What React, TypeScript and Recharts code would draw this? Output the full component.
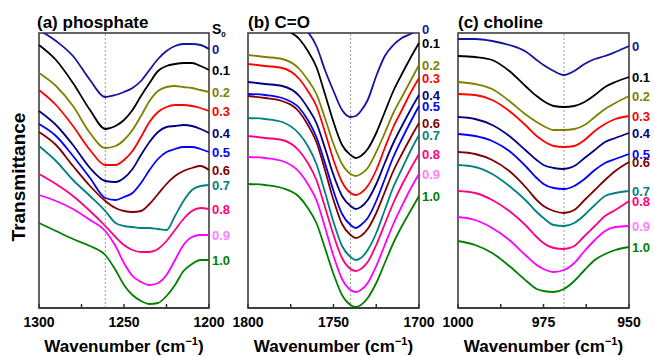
import { LabelList, Line, LineChart, ReferenceArea, ReferenceLine, XAxis, YAxis } from "recharts";

// S0 fraction for each curve, top to bottom
const S0 = ["0", "0.1", "0.2", "0.3", "0.4", "0.5", "0.6", "0.7", "0.8", "0.9", "1.0"];

// (a) phosphate band, wavenumber in cm-1, transmittance in arbitrary offset units
const phosWn = [1300, 1290, 1280, 1270, 1261, 1255, 1250, 1245, 1240, 1235, 1230, 1225, 1220, 1215, 1210, 1205, 1200];
const phos00 = [278, 267, 252, 228, 211, 213, 216, 220, 227, 238, 249, 257, 262, 264, 264, 263, 259];
const phos01 = [263, 248, 225, 198, 179, 182, 188, 198, 212, 225, 237, 242, 244, 245, 245, 242, 238];
const phos02 = [235, 222, 202, 175, 160, 162, 168, 178, 192, 207, 217, 221, 222, 221, 220, 218, 216];
const phos03 = [218, 203, 182, 158, 143, 143, 148, 157, 171, 186, 196, 201, 203, 203, 202, 200, 197];
const phos04 = [197, 183, 163, 140, 127, 126, 130, 139, 153, 166, 176, 181, 182, 183, 182, 179, 175];
const phos05 = [184, 172, 152, 130, 110, 108, 111, 115, 125, 138, 149, 156, 159, 161, 161, 159, 156];
const phos06 = [176, 163, 142, 122, 107, 100, 97, 96, 97, 104, 114, 124, 132, 137, 140, 142, 138];
const phos07 = [162, 147, 128, 112, 97, 85, 82, 81, 80, 80, 79, 78, 92, 107, 118, 122, 123];
const phos08 = [134, 124, 112, 97, 82, 71, 63, 58, 56, 56, 59, 67, 78, 89, 97, 100, 99];
const phos09 = [113, 107, 99, 88, 77, 62, 45, 32, 26, 23, 25, 33, 48, 63, 71, 73, 73];
const phos10 = [85, 77, 69, 62, 53, 38, 23, 13, 7, 4, 5, 12, 23, 37, 44, 48, 48];

// (b) C=O band
const carbWn = [1800, 1790, 1780, 1770, 1765, 1760, 1755, 1750, 1745, 1740, 1737, 1734, 1730, 1725, 1720, 1715, 1710, 1705, 1700];
const carb00 = [300, 298, 292, 283, 276, 262, 238, 217, 198, 191, 192, 197, 208, 232, 252, 263, 270, 274, 279];
const carb01 = [283, 282, 279, 269, 257, 241, 214, 186, 163, 153, 150, 152, 159, 175, 196, 217, 234, 250, 265];
const carb02 = [253, 251, 249, 239, 228, 214, 190, 164, 144, 134, 132, 134, 140, 156, 175, 195, 211, 227, 243];
const carb03 = [244, 242, 240, 229, 217, 202, 176, 148, 126, 115, 113, 115, 122, 138, 160, 181, 198, 215, 230];
const carb04 = [226, 224, 222, 212, 200, 185, 160, 133, 112, 102, 99, 101, 108, 124, 145, 165, 182, 198, 213];
const carb05 = [214, 213, 210, 200, 188, 171, 145, 117, 94, 83, 80, 83, 90, 107, 129, 151, 169, 186, 202];
const carb06 = [212, 210, 207, 196, 183, 166, 138, 108, 84, 73, 70, 72, 79, 95, 116, 137, 154, 170, 185];
const carb07 = [190, 189, 186, 174, 162, 144, 116, 86, 62, 51, 48, 50, 58, 75, 98, 121, 139, 157, 173];
const carb08 = [172, 170, 168, 157, 145, 128, 101, 73, 50, 39, 37, 39, 46, 63, 84, 105, 123, 139, 154];
const carb09 = [151, 150, 147, 136, 124, 108, 81, 52, 29, 18, 16, 18, 25, 42, 63, 84, 102, 119, 134];
const carb10 = [124, 123, 120, 111, 100, 85, 60, 34, 13, 3, 1, 3, 10, 25, 45, 65, 82, 97, 112];

// (c) choline band
const cholWn = [1000, 995, 990, 985, 980, 977, 975, 972, 969, 966, 963, 960, 957, 954, 950];
const chol00 = [269, 269, 267, 263, 256, 248, 243, 237, 233, 237, 244, 249, 252, 256, 262];
const chol01 = [252, 251, 248, 237, 221, 212, 207, 202, 201, 202, 206, 213, 221, 226, 231];
const chol02 = [226, 224, 219, 207, 193, 186, 182, 178, 178, 179, 183, 191, 199, 205, 212];
const chol03 = [214, 213, 208, 197, 182, 172, 167, 162, 161, 162, 168, 177, 184, 189, 192];
const chol04 = [191, 189, 183, 172, 157, 148, 143, 140, 139, 142, 150, 158, 166, 170, 175];
const chol05 = [174, 172, 167, 157, 141, 130, 124, 120, 119, 122, 129, 138, 145, 149, 154];
const chol06 = [156, 154, 148, 137, 120, 108, 102, 97, 95, 98, 108, 118, 128, 137, 146];
const chol07 = [143, 141, 134, 122, 107, 96, 90, 83, 82, 85, 93, 103, 112, 115, 117];
const chol08 = [117, 115, 108, 97, 82, 71, 65, 60, 59, 62, 72, 82, 92, 98, 107];
const chol09 = [91, 88, 80, 68, 52, 43, 39, 36, 38, 45, 57, 68, 77, 81, 82];
const chol10 = [67, 63, 55, 42, 27, 19, 17, 16, 19, 27, 38, 48, 54, 58, 61];

const LINE_COLORS = ["#1414A0", "#000000", "#808000", "#FF0000", "#000080", "#0000FF", "#800000", "#008080", "#FF0080", "#FF00FF", "#008000"];
const LABEL_COLORS = ["#1414A0", "#000000", "#808000", "#FF0000", "#000080", "#0000FF", "#800000", "#008080", "#FF0080", "#FF80FF", "#008000"];

const FONT = "Arial, 'Liberation Sans', sans-serif";
const FRAME = "#333";
const PLOT_TOP = 33;
const PLOT_H = 275;

function buildRows(wn: number[], series: number[][]) {
  return wn.map((w, i) => {
    const row: Record<string, number | string> = { wn: w };
    series.forEach((s, k) => {
      row[`s${k}`] = s[i];
      // the S0 tag only goes on the right-hand end of each curve
      if (i === wn.length - 1) row[`l${k}`] = S0[k];
    });
    return row;
  });
}

function Panel({
  wn,
  series,
  domain,
  ticks,
  major,
  marker,
  left,
  width,
}: {
  wn: number[];
  series: number[][];
  domain: [number, number];
  ticks: number[];
  major: number[];
  marker: number;
  left: number;
  width: number;
}) {
  const data = buildRows(wn, series);
  const mL = 30;
  const mR = 40;
  const mT = 20;
  const axisH = 50;
  const frame = { stroke: FRAME, strokeWidth: 1.5 };
  return (
    <div style={{ position: "absolute", left: left - mL, top: PLOT_TOP - mT }}>
      <LineChart
        width={width + mL + mR}
        height={PLOT_H + mT + axisH}
        data={data}
        margin={{ top: mT, right: mR, bottom: 0, left: mL }}
      >
        <XAxis
          dataKey="wn"
          type="number"
          domain={domain}
          reversed
          ticks={ticks}
          interval={0}
          height={axisH}
          tickSize={-4}
          tickMargin={13}
          tickFormatter={(v: number) => (major.includes(v) ? String(v) : "")}
          tick={{ fontSize: 14, fontWeight: "bold", fill: "#000" }}
          axisLine={frame}
          tickLine={frame}
        />
        <XAxis
          xAxisId="top"
          orientation="top"
          dataKey="wn"
          type="number"
          domain={domain}
          reversed
          height={0}
          tick={false}
          tickLine={false}
          axisLine={frame}
        />
        <YAxis domain={[0, PLOT_H]} allowDataOverflow width={0} tick={false} tickLine={false} axisLine={frame} />
        <YAxis
          yAxisId="right"
          orientation="right"
          domain={[0, PLOT_H]}
          width={0}
          tick={false}
          tickLine={false}
          axisLine={frame}
        />
        <ReferenceArea
          x1={domain[0]}
          x2={domain[1]}
          y1={0}
          y2={PLOT_H}
          fill="none"
          stroke={FRAME}
          strokeWidth={1.5}
          ifOverflow="visible"
        />
        <ReferenceLine x={marker} stroke="#9a9a9a" strokeDasharray="2 2" strokeWidth={1} />
        {series.map((_, k) => (
          <Line
            key={k}
            type="monotone"
            dataKey={`s${k}`}
            stroke={LINE_COLORS[k]}
            strokeWidth={1.8}
            dot={false}
            isAnimationActive={false}
          >
            <LabelList
              dataKey={`l${k}`}
              position="right"
              offset={3}
              fill={LABEL_COLORS[k]}
              fontSize={13}
              fontWeight="bold"
            />
          </Line>
        ))}
      </LineChart>
    </div>
  );
}

function AxisTitle({ cx }: { cx: number }) {
  return (
    <text x={cx} y={352} textAnchor="middle" fontSize={17} fontWeight="bold">
      Wavenumber (cm
      <tspan dy={-7} fontSize={11}>
        −1
      </tspan>
      <tspan dy={7}>)</tspan>
    </text>
  );
}

export default function App() {
  return (
    <div
      style={{
        position: "absolute",
        left: 0,
        top: 0,
        width: 654,
        height: 357,
        background: "#fff",
        fontFamily: FONT,
        overflow: "hidden",
      }}
    >
      <Panel
        wn={phosWn}
        series={[phos00, phos01, phos02, phos03, phos04, phos05, phos06, phos07, phos08, phos09, phos10]}
        domain={[1200, 1300]}
        ticks={[1300, 1275, 1250, 1225, 1200]}
        major={[1300, 1250, 1200]}
        marker={1261}
        left={39}
        width={170}
      />
      <Panel
        wn={carbWn}
        series={[carb00, carb01, carb02, carb03, carb04, carb05, carb06, carb07, carb08, carb09, carb10]}
        domain={[1700, 1800]}
        ticks={[1800, 1775, 1750, 1725, 1700]}
        major={[1800, 1750, 1700]}
        marker={1740}
        left={248}
        width={171}
      />
      <Panel
        wn={cholWn}
        series={[chol00, chol01, chol02, chol03, chol04, chol05, chol06, chol07, chol08, chol09, chol10]}
        domain={[950, 1000]}
        ticks={[1000, 987.5, 975, 962.5, 950]}
        major={[1000, 975, 950]}
        marker={969}
        left={458}
        width={171}
      />
      <svg
        width={654}
        height={357}
        style={{ position: "absolute", left: 0, top: 0, pointerEvents: "none", fontFamily: FONT }}
      >
        <text x={37} y={28} fontSize={17} fontWeight="bold">(a) phosphate</text>
        <text x={248} y={28} fontSize={17} fontWeight="bold">(b) C=O</text>
        <text x={458} y={28} fontSize={17} fontWeight="bold">(c) choline</text>
        <text x={212} y={34} fontSize={14} fontWeight="bold">
          S<tspan dy={3} fontSize={8}>0</tspan>
        </text>
        <text x={25} y={177} fontSize={19} fontWeight="bold" textAnchor="middle" transform="rotate(-90 25 177)">
          Transmittance
        </text>
        <AxisTitle cx={124} />
        <AxisTitle cx={333.5} />
        <AxisTitle cx={543.5} />
      </svg>
    </div>
  );
}
